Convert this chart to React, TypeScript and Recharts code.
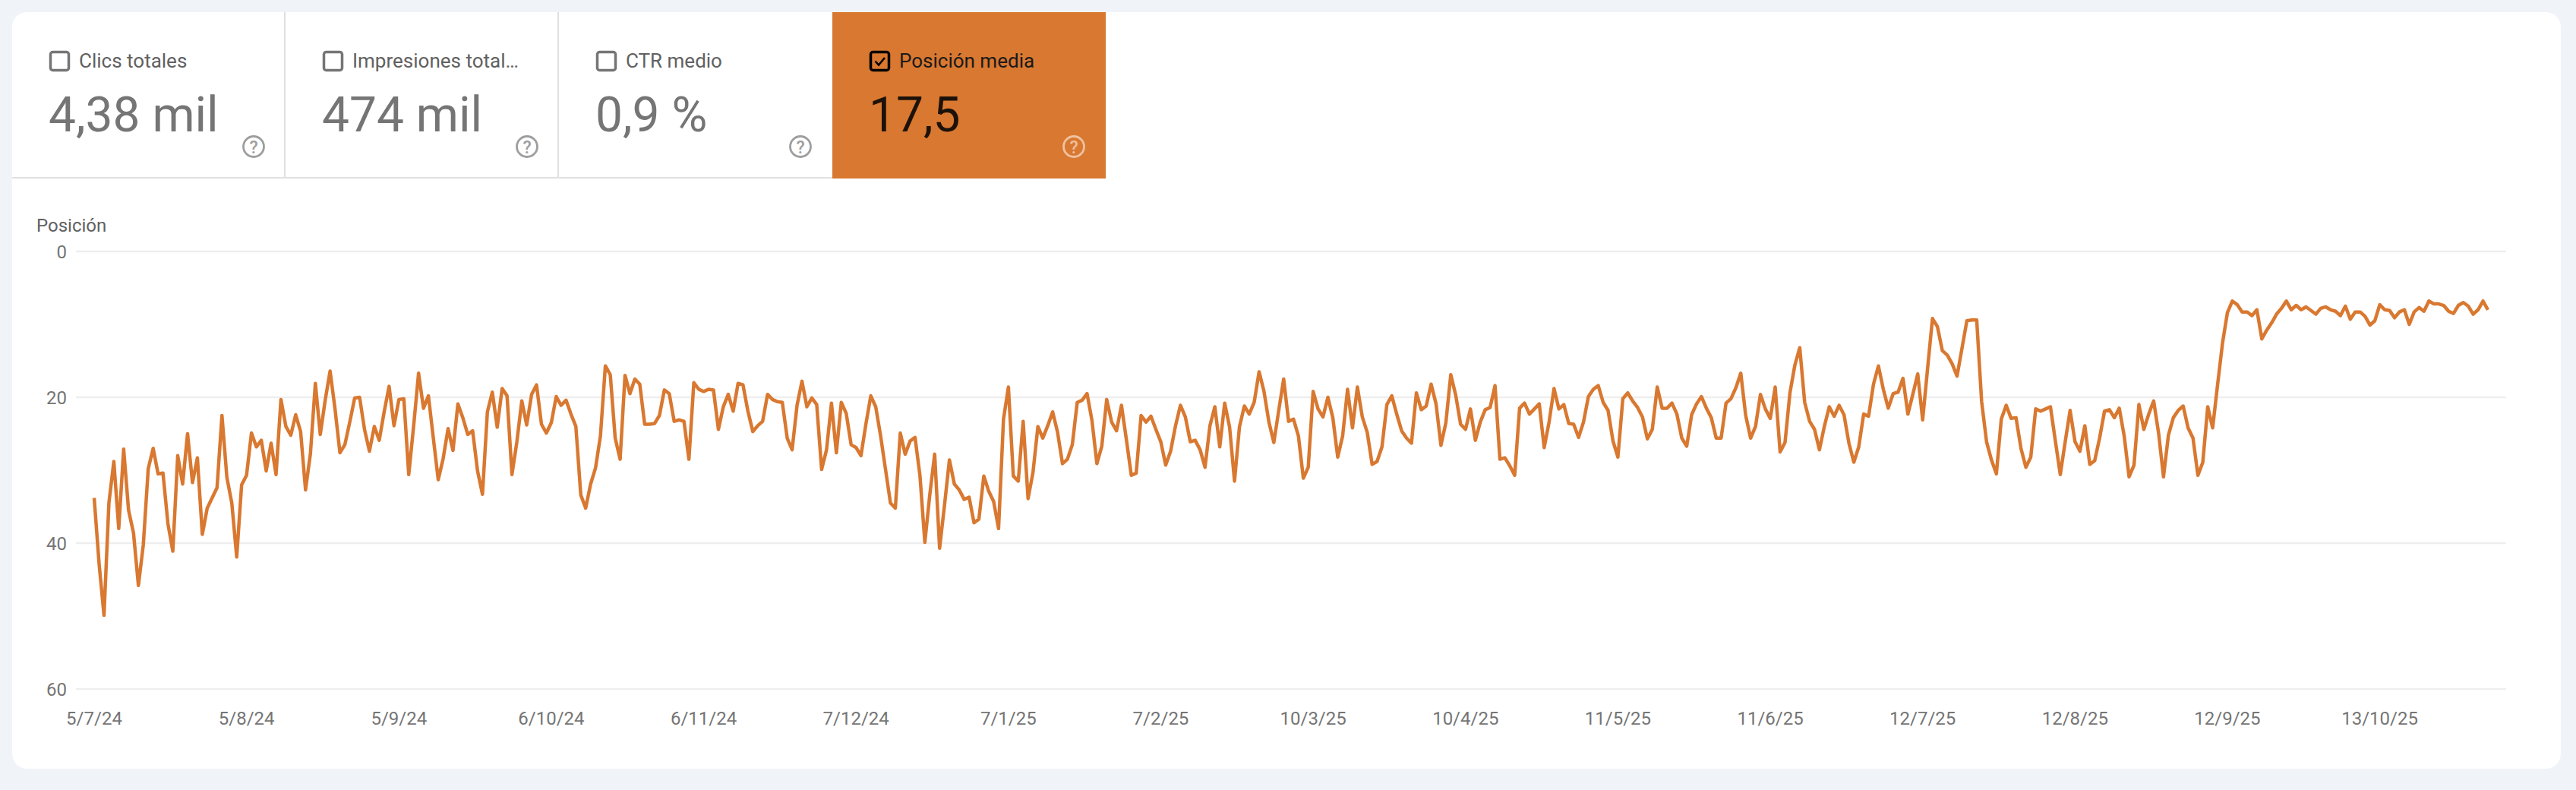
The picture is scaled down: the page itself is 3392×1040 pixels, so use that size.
import React from 'react';
import { LineChart, Line, XAxis, YAxis, CartesianGrid } from 'recharts';

const tickLabels = ['5/7/24','5/8/24','5/9/24','6/10/24','6/11/24','7/12/24','7/1/25','7/2/25','10/3/25','10/4/25','11/5/25','11/6/25','12/7/25','12/8/25','12/9/25','13/10/25'];
const tickDays = [0,31,62,93,124,155,186,217,248,279,310,341,372,403,434,465];
const yTicks = [0,20,40,60];

const posA = [33.8,42.8,49.9,34.5,28.8,38,27.1,35.5,38.6,45.8,40.2,29.8,27,30.5,30.4,37.3,41.1,28,31.9,25,31.7,28.3,38.8,35.2,33.8,32.4,22.5,31,34.5,41.9,32,30.7,24.9,26.8,25.9,30.1,26.3,30.6,20.3,24,25.2,22.4,24.7,32.7,27.7,18.1,25.1,20.4,16.4,21.6,27.6,26.5,23.4,20.1,20,24.4,27.4,24,25.9,22,18.5,23.9,20.3,20.2,30.6,23.9,16.7,21.5,19.8,25.6,31.3,28.4,24.3,27.3,20.9,22.8,25.1,24.6,30.1,33.3];
const posB = [22,19.3,24.1,18.8,19.8,30.6,26.1,20.5,23.8,19.6,18.3,23.7,24.9,23.5,19.9,21.1,20.4,22.3,24,33.4,35.2,31.9,29.7,25.3,15.7,16.9,25.6,28.5,17,19.5,17.5,18.2,23.7,23.7,23.6,22.5,19,19.5,23.3,23.1,23.3,28.5,18,18.9,19.2,18.9,19,24.4,21.3,19.6,21.9,18.1,18.3,21.9,24.7,23.9,23.3,19.6,20.3,20.6,20.7,25.6,27.2,21.1,17.8,21.3,20.1,21,29.9,27.2,20.8,27.6,20.7,22.2,26.5,26.9,28,23.7,19.8,21.3,25.3];
const posC = [29.9,34.5,35.2,24.9,27.8,26,25.5,30.7,39.9,33.4,27.8,40.7,34.8,28.6,31.9,32.7,34,33.7,37.2,36.7,30.8,32.9,34.3,38,23,18.6,30.8,31.5,23.3,33.9,30.3,24,25.6,23.9,22,24.8,29.1,28.5,26.5,20.7,20.4,19.5,23.2,29.1,26.7,20.3,23.4,24.6,21.1,25.8,30.7,30.4,22.5,23.4,22.6,24.4,26.1,29.3,27.4,23.9,21.1,22.7,26.1,25.9,27.2,29.6,23.9,21.3,26.8,20.8,24.1,31.5,24.1,21.2,22.3,20.7,16.5,19.2,23.4,26.2,21.8];
const posD = [17.5,23.3,23,25.3,31.1,29.6,19.2,21.6,22.7,20,22.8,28.2,25.3,18.9,24.2,18.6,22.7,24.8,29.2,28.8,26.8,21,19.8,22.3,24.6,25.6,26.3,19.4,21.7,21.2,18.2,20.9,26.6,23.5,16.9,19.7,23.7,24.4,21.6,25.9,23.4,21.7,21.4,18.4,28.5,28.3,29.4,30.7,21.5,20.8,22.3,21.6,20.9,26.9,23.4,18.8,21.6,21,23.6,23.7,25.5,23.4,19.9,18.9,18.4,20.7,21.8,26,28.2,20.2,19.4,20.5,21.4,22.7,25.7,24.4,18.6,21.5,21.5,20.8,22.3];
const posE = [25.6,26.7,22.4,20.9,19.9,21.5,22.8,25.6,25.6,20.8,20.2,18.7,16.7,22.5,25.6,24,19.6,21.6,22.9,18.6,27.5,26.2,19.4,15.6,13.2,20.7,23.3,24.4,27.2,24,21.3,22.6,21.1,22.4,26.3,28.9,26.8,22.3,22.6,18.2,15.7,18.9,21.5,19.5,19.3,17.4,22.3,19.6,16.8,23.1,16.1,9.2,10.3,13.6,14.2,15.4,17.1,13.3,9.5,9.4,9.4,20.6,26.1,28.6,30.5,23,21.1,22.9,22.8,27,29.6,28.2,21.6,21.9,21.6,21.3,26,30.6,26.1,21.8,26.1];
const posF = [27.4,23.9,29.2,28.7,25.6,21.9,21.7,22.8,21.5,25.3,30.9,29.3,21,24.4,22.3,20.5,24.9,30.9,25.2,22.8,21.8,21.2,24.2,25.6,30.7,28.9,21.3,24.2,18.3,12.6,8.4,6.8,7.3,8.3,8.3,8.8,8,12,10.8,9.8,8.6,7.8,6.8,8,7.4,8,7.6,8.1,8.6,7.8,7.6,8,8.2,8.8,7.5,9.3,8.3,8.3,8.9,10.1,9.5,7.3,8,8.1,9.1,8.3,8,10,8.3,7.7,8.2,6.8,7.2,7.2,7.4,8.2,8.5,7.4,7,7.5,8.6,8,6.8,8];

const positions = [...posA, ...posB, ...posC, ...posD, ...posE, ...posF];
const rows = positions.map((pos, day) => ({ day, pos }));

const ORANGE = '#D97830';
const tiles = [
  { label: 'Clics totales', value: '4,38 mil', on: false },
  { label: 'Impresiones total…', value: '474 mil', on: false },
  { label: 'CTR medio', value: '0,9 %', on: false },
  { label: 'Posición media', value: '17,5', on: true },
];

function Tile({ label, value, on, index }: any) {
  const w = 360;
  const fg = on ? '#000' : '#757575';
  const hint = on ? 'rgba(255,255,255,0.55)' : '#9e9e9e';
  return (
    <div style={{ position: 'absolute', left: index * w, top: 0, width: w, height: 219, background: on ? ORANGE : '#fff', boxSizing: 'border-box',
      borderRight: !on && index < 2 ? '2px solid #e0e0e0' : 'none', borderBottom: on ? 'none' : '2px solid #e0e0e0', borderTopLeftRadius: index === 0 ? 20 : 0 }}>
      <svg width={w} height={219} style={{ position: 'absolute', left: 0, top: 0 }}>
        <rect x={50.5} y={52.5} width={24} height={24} rx={3} fill="none" stroke={fg} strokeWidth={3.5} />
        {on && <path d="M56.5 64.5 L61 69.5 L69 60" fill="none" stroke="#000" strokeWidth={2.6} />}
        <circle cx={318} cy={177} r={13.5} fill="none" stroke={hint} strokeWidth={2.8} />
        <text x={318} y={185.5} textAnchor="middle" fontFamily="Roboto" fontWeight={500} fontSize={23} fill={hint}>?</text>
      </svg>
      <div style={{ position: 'absolute', left: 88, top: 48, fontFamily: 'Roboto', fontSize: 26, lineHeight: '32px', color: on ? '#1a1a1a' : '#616161', whiteSpace: 'nowrap' }}>{label}</div>
      <div style={{ position: 'absolute', left: 48, top: 98, fontFamily: 'Roboto', fontSize: 64, lineHeight: '76px', color: on ? '#1c1209' : '#757575', whiteSpace: 'nowrap' }}>{value}</div>
    </div>
  );
}

export default function App() {
  return (
    <div style={{ position: 'fixed', left: 0, top: 0, width: 3392, height: 1040, background: '#F0F4F9', overflow: 'hidden' }}>
      <div style={{ position: 'absolute', left: 16, top: 16, width: 3356, height: 996, background: '#fff', borderRadius: 20 }} />
      <div style={{ position: 'absolute', left: 16, top: 16 }}>
        {tiles.map((t, i) => <Tile key={t.label} index={i} {...t} />)}
      </div>
      <div style={{ position: 'absolute', left: 48, top: 281, fontFamily: 'Roboto', fontSize: 24, lineHeight: '32px', color: '#616161' }}>Posición</div>
      <div style={{ position: 'absolute', left: 0, top: 0 }}>
        <LineChart width={3392} height={1040} data={rows} margin={{ top: 331, right: 92, bottom: 73, left: 0 }}>
          <CartesianGrid horizontal vertical={false} stroke="#eeeeee" strokeWidth={2.5} />
          <XAxis dataKey="day" type="number" domain={[0, positions.length - 1]} ticks={tickDays} interval={0}
            tickFormatter={(d: number) => tickLabels[tickDays.indexOf(d)]} padding={{ left: 24, right: 24 }}
            axisLine={false} tickLine={false} tickSize={0} tickMargin={30} height={60}
            tick={{ fontFamily: 'Roboto', fontSize: 24, fill: '#757575' }} />
          <YAxis dataKey="pos" type="number" reversed domain={[0, 60]} ticks={yTicks} interval={0} width={100}
            axisLine={false} tickLine={false} tickSize={0} tickMargin={12}
            tick={{ fontFamily: 'Roboto', fontSize: 24, fill: '#757575' }} />
          <Line dataKey="pos" type="linear" stroke={ORANGE} strokeWidth={4.5} dot={false} isAnimationActive={false} strokeLinejoin="round" />
        </LineChart>
      </div>
    </div>
  );
}
